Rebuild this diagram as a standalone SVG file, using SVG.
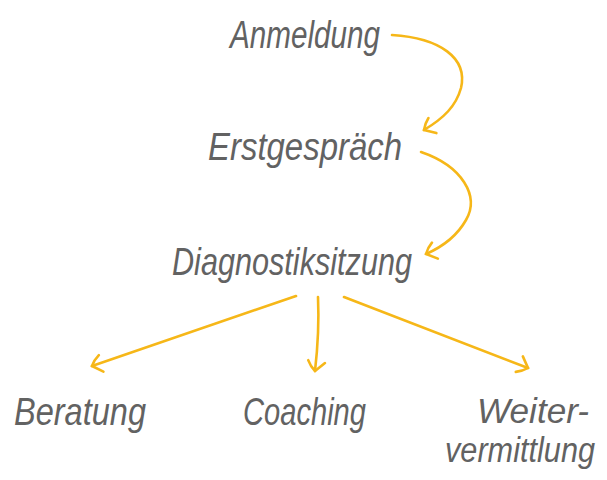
<svg xmlns="http://www.w3.org/2000/svg" width="607" height="480" viewBox="0 0 607 480">
<style>
text{font-family:"Liberation Sans","DejaVu Sans",sans-serif;font-style:italic;fill:#626262;font-size:39px;}
.s{font-size:35px;}
.c{fill:none;stroke:#f6b718;stroke-width:2.6;stroke-linecap:round;stroke-linejoin:round;}
</style>
<defs>
<marker id="ah" markerWidth="24" markerHeight="24" viewBox="-12 -12 24 24" refX="0" refY="0" orient="auto" markerUnits="userSpaceOnUse">
<path d="M-9,-9 Q-2,-2 0,0 Q-4,5 -10,8" fill="none" stroke="#f6b718" stroke-width="2.6" stroke-linecap="round"/>
</marker>
</defs>
<rect width="607" height="480" fill="#ffffff"/>
<g id="connectors">
<path class="c" d="M392,35 C440,38 468,58 461,88 C456,106 444,118 424,130" marker-end="url(#ah)"/>
<path class="c" d="M421,152 C462,166 480,196 466,220 C457,236 442,247 426,254" marker-end="url(#ah)"/>
<path class="c" d="M296,296 L92,366" marker-end="url(#ah)"/>
<path class="c" d="M318,297 C319,320 318,345 315,371" marker-end="url(#ah)"/>
<path class="c" d="M344,297 L528,368" marker-end="url(#ah)"/>
</g>
<g id="anmeldung"><text x="230" y="48" textLength="150" lengthAdjust="spacingAndGlyphs">Anmeldung</text></g>
<g id="erstgespraech"><text x="208" y="160" textLength="194" lengthAdjust="spacingAndGlyphs">Erstgespräch</text></g>
<g id="diagnostiksitzung"><text x="172" y="275" textLength="240" lengthAdjust="spacingAndGlyphs">Diagnostiksitzung</text></g>
<g id="beratung"><text x="14" y="425" textLength="132" lengthAdjust="spacingAndGlyphs">Beratung</text></g>
<g id="coaching"><text x="243" y="425" textLength="123" lengthAdjust="spacingAndGlyphs">Coaching</text></g>
<g id="weitervermittlung"><text class="s" x="477" y="423" textLength="112" lengthAdjust="spacingAndGlyphs">Weiter-</text><text class="s" x="445" y="462" textLength="150" lengthAdjust="spacingAndGlyphs">vermittlung</text></g>
</svg>
